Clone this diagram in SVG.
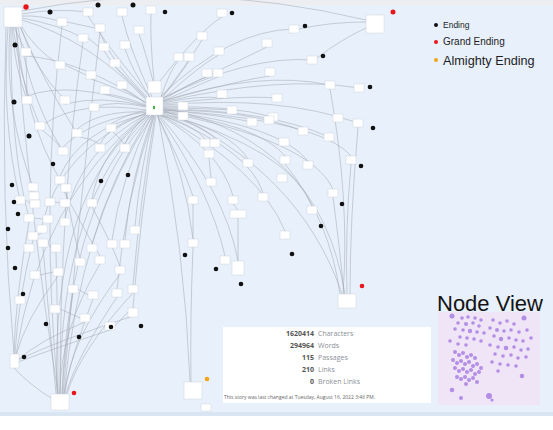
<svg xmlns="http://www.w3.org/2000/svg" width="553" height="430" viewBox="0 0 553 430">
<style>
.n{fill:#fff;stroke:#cdd4de;stroke-width:.5}
.e{fill:none;stroke:#a3a9b3;stroke-width:.7;opacity:.75}
.k{fill:#111}
.r{fill:#e8151b}
.o{fill:#f2a51c}
.p{fill:#a77fe2;opacity:.85}
.num{font-family:"Open Sans","Liberation Sans",sans-serif;font-size:7px;font-weight:bold;fill:#555;text-anchor:end}
.lab{font-family:"Open Sans","Liberation Sans",sans-serif;font-size:7px;fill:#8a8f98}
.lg{font-family:"Liberation Sans",Arial,sans-serif;fill:#1e1e1e}
</style>
<rect x="0" y="0" width="553" height="430" fill="#ffffff"/>
<rect x="0" y="5" width="553" height="409" fill="#e7f0fb"/>
<rect x="0" y="0" width="553" height="5" fill="#eceef1"/>
<rect x="0" y="412" width="553" height="4" fill="#d9e5f3"/>

<g id="connectors">
<path class="e" d="M22 14 Q55 8 88 12"/>
<path class="e" d="M22 16 Q40 15 62 22"/>
<path class="e" d="M14 27 Q20 40 26 52"/>
<path class="e" d="M12 27 Q14 65 27 100"/>
<path class="e" d="M13 27 Q20 80 40 126"/>
<path class="e" d="M10 27 Q4 110 33 187"/>
<path class="e" d="M8 27 Q1 120 20 200"/>
<path class="e" d="M6 27 Q0 200 14 354"/>
<path class="e" d="M16 27 Q30 220 58 394"/>
<path class="e" d="M20 24 Q35 50 60 65"/>
<path class="e" d="M20 26 Q35 70 65 100"/>
<path class="e" d="M18 27 Q30 100 63 151"/>
<path class="e" d="M20 26 Q45 85 77 133"/>
<path class="e" d="M22 20 Q90 40 146 100"/>
<path class="e" d="M22 11 Q190 -22 366 20"/>
<path class="e" d="M16 27 Q25 120 60 180"/>
<path class="e" d="M11 27 Q10 150 29 218"/>
<path class="e" d="M22 18 Q60 25 83 38"/>
<path class="e" d="M150 97 Q110 50 88 16"/>
<path class="e" d="M152 97 Q130 50 122 16"/>
<path class="e" d="M154 81 Q150 40 151 14"/>
<path class="e" d="M148 98 Q110 60 100 32"/>
<path class="e" d="M153 81 Q145 50 139 34"/>
<path class="e" d="M148 100 Q115 70 104 51"/>
<path class="e" d="M150 97 Q132 70 125 49"/>
<path class="e" d="M148 100 Q125 75 115 67"/>
<path class="e" d="M146 102 Q110 85 91 79"/>
<path class="e" d="M146 104 Q130 90 122 89"/>
<path class="e" d="M146 105 Q120 95 105 94"/>
<path class="e" d="M146 107 Q115 100 94 107"/>
<path class="e" d="M146 110 Q125 115 111 124"/>
<path class="e" d="M146 112 Q100 110 77 129"/>
<path class="e" d="M146 110 Q80 100 44 124"/>
<path class="e" d="M146 106 Q100 95 65 104"/>
<path class="e" d="M146 106 Q70 80 27 96"/>
<path class="e" d="M146 103 Q80 60 26 56"/>
<path class="e" d="M146 112 Q90 120 63 147"/>
<path class="e" d="M147 113 Q110 125 100 144"/>
<path class="e" d="M148 114 Q130 130 125 144"/>
<path class="e" d="M146 114 Q80 130 60 176"/>
<path class="e" d="M148 115 Q100 150 92 199"/>
<path class="e" d="M150 115 Q110 180 92 244"/>
<path class="e" d="M152 115 Q120 180 112 240"/>
<path class="e" d="M153 115 Q130 180 125 240"/>
<path class="e" d="M154 115 Q140 170 135 226"/>
<path class="e" d="M147 114 Q80 150 65 218"/>
<path class="e" d="M146 113 Q60 150 42 225"/>
<path class="e" d="M155 115 Q140 200 133 285"/>
<path class="e" d="M156 115 Q140 220 133 308"/>
<path class="e" d="M154 115 Q125 200 117 289"/>
<path class="e" d="M152 115 Q70 200 62 394"/>
<path class="e" d="M153 115 Q80 220 64 394"/>
<path class="e" d="M150 115 Q60 200 60 394"/>
<path class="e" d="M149 115 Q50 190 57 394"/>
<path class="e" d="M146 114 Q40 200 16 354"/>
<path class="e" d="M158 115 Q185 250 190 382"/>
<path class="e" d="M163 108 Q320 140 345 294"/>
<path class="e" d="M163 110 Q300 170 342 294"/>
<path class="e" d="M161 97 Q170 70 178 61"/>
<path class="e" d="M162 98 Q180 75 189 61"/>
<path class="e" d="M162 97 Q190 60 202 40"/>
<path class="e" d="M160 81 Q200 30 222 17"/>
<path class="e" d="M163 98 Q240 60 267 47"/>
<path class="e" d="M163 99 Q200 65 219 55"/>
<path class="e" d="M163 101 Q240 80 270 76"/>
<path class="e" d="M163 100 Q195 80 207 77"/>
<path class="e" d="M163 101 Q205 82 218 77"/>
<path class="e" d="M163 103 Q200 95 222 98"/>
<path class="e" d="M163 104 Q240 95 277 98"/>
<path class="e" d="M163 106 L178 106"/>
<path class="e" d="M163 108 Q200 108 232 110"/>
<path class="e" d="M163 110 Q220 115 252 122"/>
<path class="e" d="M163 107 Q230 105 273 117"/>
<path class="e" d="M161 96 Q230 30 294 29"/>
<path class="e" d="M163 98 Q250 55 312 60"/>
<path class="e" d="M163 101 Q260 70 330 85"/>
<path class="e" d="M163 102 Q280 75 359 88"/>
<path class="e" d="M163 110 Q250 110 303 131"/>
<path class="e" d="M163 109 Q270 110 329 137"/>
<path class="e" d="M163 105 Q280 95 358 123"/>
<path class="e" d="M160 115 Q195 125 205 139"/>
<path class="e" d="M161 115 Q205 125 215 139"/>
<path class="e" d="M162 114 Q230 130 248 159"/>
<path class="e" d="M163 112 Q260 125 285 156"/>
<path class="e" d="M163 111 Q280 125 308 161"/>
<path class="e" d="M163 110 Q320 120 351 156"/>
<path class="e" d="M157 115 Q180 160 193 196"/>
<path class="e" d="M159 115 Q220 150 233 196"/>
<path class="e" d="M161 115 Q250 150 263 193"/>
<path class="e" d="M163 112 Q310 140 333 189"/>
<path class="e" d="M163 113 Q290 150 312 206"/>
<path class="e" d="M161 115 Q260 170 285 231"/>
<path class="e" d="M157 115 Q185 170 193 239"/>
<path class="e" d="M158 115 Q210 190 225 256"/>
<path class="e" d="M159 115 Q225 190 238 261"/>
<path class="e" d="M299 29 Q330 22 366 22"/>
<path class="e" d="M317 58 Q340 40 366 28"/>
<path class="e" d="M209 158 L211 178"/>
<path class="e" d="M193 204 L193 239"/>
<path class="e" d="M193 247 Q190 320 191 382"/>
<path class="e" d="M233 204 L238 210"/>
<path class="e" d="M238 218 L238 261"/>
<path class="e" d="M358 127 Q350 220 350 294"/>
<path class="e" d="M351 164 Q345 230 347 294"/>
<path class="e" d="M333 197 Q340 250 344 294"/>
<path class="e" d="M330 89 Q350 200 343 294"/>
<path class="e" d="M285 164 Q330 220 340 294"/>
<path class="e" d="M29 222 Q15 300 14 354"/>
<path class="e" d="M33 240 Q18 300 15 354"/>
<path class="e" d="M58 276 Q25 320 16 356"/>
<path class="e" d="M85 322 Q40 340 18 360"/>
<path class="e" d="M110 330 Q50 350 18 362"/>
<path class="e" d="M133 316 Q60 340 18 360"/>
<path class="e" d="M73 293 Q65 350 62 394"/>
<path class="e" d="M93 299 Q70 360 64 394"/>
<path class="e" d="M117 297 Q75 360 66 394"/>
<path class="e" d="M133 293 Q80 350 67 394"/>
<path class="e" d="M56 252 Q58 330 58 394"/>
<path class="e" d="M43 247 Q50 330 56 394"/>
<path class="e" d="M62 26 Q40 200 58 394"/>
<path class="e" d="M100 32 Q80 200 63 394"/>
<path class="e" d="M83 42 Q60 200 60 394"/>
<path class="e" d="M38 187 L29 196"/>
<path class="e" d="M25 200 L30 203"/>
<path class="e" d="M55 202 L60 203"/>
<path class="e" d="M34 218 L43 219"/>
<path class="e" d="M42 233 L35 236"/>
<path class="e" d="M48 243 L51 248"/>
<path class="e" d="M40 275 L53 272"/>
<path class="e" d="M78 289 L88 295"/>
<path class="e" d="M115 326 L128 312"/>
<path class="e" d="M60 309 L80 318"/>
<path class="e" d="M65 65 L86 75"/>
<path class="e" d="M88 38 L99 47"/>
<path class="e" d="M67 22 L95 28"/>
<path class="e" d="M26 56 L27 96"/>
<path class="e" d="M42 130 Q55 140 60 147"/>
<path class="e" d="M80 137 Q95 140 99 144"/>
<path class="e" d="M113 132 Q122 140 124 144"/>
<path class="e" d="M60 184 Q90 240 100 256"/>
<path class="e" d="M66 191 Q75 240 80 258"/>
<path class="e" d="M92 207 Q110 240 120 266"/>
<path class="e" d="M100 264 Q60 330 60 394"/>
<path class="e" d="M120 274 Q70 340 65 394"/>
<path class="e" d="M14 368 Q30 385 51 398"/>
</g>

<g id="a1"><rect class="n" x="83" y="8" width="10" height="8"/></g>
<g id="a2"><rect class="n" x="117" y="8" width="10" height="8"/></g>
<g id="a3"><rect class="n" x="146" y="6" width="10" height="8"/></g>
<g id="a4"><rect class="n" x="57" y="18" width="10" height="8"/></g>
<g id="a5"><rect class="n" x="95" y="24" width="10" height="8"/></g>
<g id="a6"><rect class="n" x="134" y="26" width="10" height="8"/></g>
<g id="a7"><rect class="n" x="78" y="34" width="10" height="8"/></g>
<g id="a8"><rect class="n" x="99" y="43" width="10" height="8"/></g>
<g id="a9"><rect class="n" x="120" y="41" width="10" height="8"/></g>
<g id="a10"><rect class="n" x="21" y="48" width="10" height="8"/></g>
<g id="a11"><rect class="n" x="110" y="59" width="10" height="8"/></g>
<g id="a12"><rect class="n" x="55" y="61" width="10" height="8"/></g>
<g id="a13"><rect class="n" x="86" y="71" width="10" height="8"/></g>
<g id="a14"><rect class="n" x="117" y="81" width="10" height="8"/></g>
<g id="a15"><rect class="n" x="100" y="86" width="10" height="8"/></g>
<g id="a16"><rect class="n" x="60" y="96" width="10" height="8"/></g>
<g id="a17"><rect class="n" x="89" y="103" width="10" height="8"/></g>
<g id="a18"><rect class="n" x="22" y="96" width="10" height="8"/></g>
<g id="a19"><rect class="n" x="35" y="122" width="10" height="8"/></g>
<g id="a20"><rect class="n" x="72" y="129" width="10" height="8"/></g>
<g id="a21"><rect class="n" x="106" y="124" width="10" height="8"/></g>

<g id="b1"><rect class="n" x="174" y="53" width="9" height="8"/></g>
<g id="b2"><rect class="n" x="184" y="53" width="10" height="8"/></g>
<g id="b3"><rect class="n" x="197" y="32" width="10" height="8"/></g>
<g id="b4"><rect class="n" x="217" y="9" width="10" height="8"/></g>
<g id="b5"><rect class="n" x="262" y="39" width="10" height="8"/></g>
<g id="b6"><rect class="n" x="214" y="47" width="10" height="8"/></g>
<g id="b7"><rect class="n" x="265" y="68" width="10" height="8"/></g>
<g id="b8"><rect class="n" x="202" y="69" width="10" height="8"/></g>
<g id="b9"><rect class="n" x="213" y="69" width="10" height="8"/></g>
<g id="b10"><rect class="n" x="217" y="90" width="10" height="8"/></g>
<g id="b11"><rect class="n" x="272" y="94" width="10" height="8"/></g>
<g id="b12"><rect class="n" x="178" y="102" width="10" height="8"/></g>
<g id="b13"><rect class="n" x="178" y="112" width="10" height="8"/></g>
<g id="b14"><rect class="n" x="227" y="106" width="10" height="8"/></g>
<g id="b15"><rect class="n" x="247" y="118" width="10" height="8"/></g>
<g id="b16"><rect class="n" x="268" y="113" width="10" height="8"/></g>
<g id="b17"><rect class="n" x="289" y="25" width="10" height="8"/></g>
<g id="b18"><rect class="n" x="307" y="56" width="10" height="8"/></g>
<g id="b19"><rect class="n" x="325" y="81" width="10" height="8"/></g>
<g id="b20"><rect class="n" x="354" y="84" width="10" height="8"/></g>
<g id="b21"><rect class="n" x="298" y="127" width="10" height="8"/></g>
<g id="b22"><rect class="n" x="324" y="133" width="10" height="8"/></g>
<g id="b23"><rect class="n" x="353" y="119" width="10" height="8"/></g>
<g id="b24"><rect class="n" x="264" y="116" width="10" height="8"/></g>
<g id="b25"><rect class="n" x="279" y="138" width="10" height="8"/></g>
<g id="b26"><rect class="n" x="333" y="114" width="10" height="8"/></g>

<g id="c1"><rect class="n" x="200" y="139" width="10" height="8"/></g>
<g id="c2"><rect class="n" x="210" y="139" width="10" height="8"/></g>
<g id="c3"><rect class="n" x="204" y="150" width="10" height="8"/></g>
<g id="c4"><rect class="n" x="243" y="159" width="10" height="8"/></g>
<g id="c5"><rect class="n" x="280" y="156" width="10" height="8"/></g>
<g id="c6"><rect class="n" x="303" y="161" width="10" height="8"/></g>
<g id="c7"><rect class="n" x="277" y="174" width="10" height="8"/></g>
<g id="c8"><rect class="n" x="346" y="156" width="10" height="8"/></g>
<g id="c9"><rect class="n" x="206" y="178" width="10" height="8"/></g>
<g id="c10"><rect class="n" x="188" y="196" width="10" height="8"/></g>
<g id="c11"><rect class="n" x="228" y="196" width="10" height="8"/></g>
<g id="c12"><rect class="n" x="230" y="210" width="16" height="8"/></g>
<g id="c13"><rect class="n" x="258" y="193" width="10" height="8"/></g>
<g id="c14"><rect class="n" x="328" y="189" width="10" height="8"/></g>
<g id="c15"><rect class="n" x="307" y="206" width="10" height="8"/></g>
<g id="c16"><rect class="n" x="280" y="231" width="10" height="8"/></g>
<g id="c17"><rect class="n" x="188" y="239" width="10" height="8"/></g>
<g id="c18"><rect class="n" x="220" y="256" width="10" height="8"/></g>
<g id="c19"><rect class="n" x="232" y="261" width="12" height="14"/></g>

<g id="d1"><rect class="n" x="58" y="147" width="10" height="8"/></g>
<g id="d2"><rect class="n" x="95" y="144" width="10" height="8"/></g>
<g id="d3"><rect class="n" x="120" y="144" width="10" height="8"/></g>
<g id="d4"><rect class="n" x="55" y="176" width="10" height="8"/></g>
<g id="d5"><rect class="n" x="61" y="184" width="10" height="8"/></g>
<g id="d6"><rect class="n" x="28" y="183" width="10" height="8"/></g>
<g id="d7"><rect class="n" x="15" y="196" width="10" height="8"/></g>
<g id="d8"><rect class="n" x="29" y="192" width="10" height="8"/></g>
<g id="d9"><rect class="n" x="30" y="200" width="10" height="8"/></g>
<g id="d10"><rect class="n" x="45" y="198" width="10" height="8"/></g>
<g id="d11"><rect class="n" x="60" y="199" width="10" height="8"/></g>
<g id="d12"><rect class="n" x="87" y="199" width="10" height="8"/></g>
<g id="d13"><rect class="n" x="60" y="218" width="10" height="8"/></g>
<g id="d14"><rect class="n" x="24" y="214" width="10" height="8"/></g>
<g id="d15"><rect class="n" x="43" y="215" width="10" height="8"/></g>
<g id="d16"><rect class="n" x="37" y="225" width="10" height="8"/></g>
<g id="d17"><rect class="n" x="28" y="232" width="10" height="8"/></g>
<g id="d18"><rect class="n" x="24" y="244" width="10" height="8"/></g>
<g id="d19"><rect class="n" x="38" y="239" width="10" height="8"/></g>
<g id="d20"><rect class="n" x="51" y="244" width="10" height="8"/></g>
<g id="d21"><rect class="n" x="87" y="244" width="10" height="8"/></g>
<g id="d22"><rect class="n" x="107" y="240" width="10" height="8"/></g>
<g id="d23"><rect class="n" x="120" y="240" width="10" height="8"/></g>
<g id="d24"><rect class="n" x="130" y="226" width="10" height="8"/></g>
<g id="d25"><rect class="n" x="95" y="256" width="10" height="8"/></g>
<g id="d26"><rect class="n" x="75" y="258" width="10" height="8"/></g>

<g id="e1"><rect class="n" x="30" y="271" width="10" height="8"/></g>
<g id="e2"><rect class="n" x="53" y="268" width="10" height="8"/></g>
<g id="e3"><rect class="n" x="68" y="285" width="10" height="8"/></g>
<g id="e4"><rect class="n" x="88" y="291" width="10" height="8"/></g>
<g id="e5"><rect class="n" x="112" y="289" width="10" height="8"/></g>
<g id="e6"><rect class="n" x="128" y="285" width="10" height="8"/></g>
<g id="e7"><rect class="n" x="50" y="305" width="10" height="8"/></g>
<g id="e8"><rect class="n" x="80" y="314" width="10" height="8"/></g>
<g id="e9"><rect class="n" x="105" y="322" width="10" height="8"/></g>
<g id="e10"><rect class="n" x="128" y="308" width="10" height="9"/></g>
<g id="e11"><rect class="n" x="10" y="354" width="9" height="14"/></g>
<g id="e12"><rect class="n" x="15" y="296" width="10" height="8"/></g>
<g id="e13"><rect class="n" x="115" y="266" width="10" height="8"/></g>

<g id="start"><rect class="n" x="4" y="7" width="18" height="20"/></g>
<g id="hub-top"><rect class="n" x="148" y="81" width="13" height="12"/></g>
<g id="hub"><rect class="n" x="146" y="97" width="17" height="18"/><rect x="153" y="106" width="2" height="3" fill="#3bb54a"/></g>
<g id="credits"><rect class="n" x="366" y="15" width="18" height="18"/></g>
<g id="happy"><rect class="n" x="338" y="294" width="18" height="14"/></g>
<g id="grand-bottom"><rect class="n" x="51" y="394" width="18" height="16"/></g>
<g id="almighty"><rect class="n" x="184" y="382" width="18" height="17"/></g>
<g id="after"><rect class="n" x="201" y="404" width="10" height="7"/></g>

<g id="endings">
<circle class="r" cx="26" cy="7" r="2.7"/>
<circle class="k" cx="50" cy="12" r="2.5"/>
<circle class="k" cx="98" cy="5" r="2.5"/>
<circle class="k" cx="133" cy="5" r="2.5"/>
<circle class="k" cx="165" cy="12" r="2.3"/>
<circle class="k" cx="232" cy="13" r="2.3"/>
<circle class="k" cx="305" cy="26" r="2.3"/>
<circle class="k" cx="323" cy="56" r="2.3"/>
<circle class="k" cx="370" cy="87" r="2.3"/>
<circle class="k" cx="373" cy="128" r="2.3"/>
<circle class="k" cx="361" cy="166" r="2.3"/>
<circle class="k" cx="342" cy="204" r="2.3"/>
<circle class="k" cx="321" cy="226" r="2.3"/>
<circle class="k" cx="292" cy="254" r="2.3"/>
<circle class="k" cx="185" cy="255" r="2.3"/>
<circle class="k" cx="216" cy="269" r="2.3"/>
<circle class="k" cx="241" cy="284" r="2.3"/>
<circle class="k" cx="15" cy="45" r="2.5"/>
<circle class="k" cx="14" cy="102" r="2.5"/>
<circle class="k" cx="29" cy="136" r="2.5"/>
<circle class="k" cx="53" cy="164" r="2.3"/>
<circle class="k" cx="128" cy="175" r="2.3"/>
<circle class="k" cx="101" cy="181" r="2.3"/>
<circle class="k" cx="12" cy="185" r="2.3"/>
<circle class="k" cx="14" cy="202" r="2.3"/>
<circle class="k" cx="18" cy="214" r="2.3"/>
<circle class="k" cx="8" cy="229" r="2.3"/>
<circle class="k" cx="8" cy="248" r="2.3"/>
<circle class="k" cx="15" cy="268" r="2.3"/>
<circle class="k" cx="23" cy="294" r="2.3"/>
<circle class="k" cx="46" cy="324" r="2.3"/>
<circle class="k" cx="79" cy="337" r="2.3"/>
<circle class="k" cx="111" cy="327" r="2.3"/>
<circle class="k" cx="141" cy="326" r="2.3"/>
<circle class="k" cx="24" cy="357" r="2.3"/>
<circle class="r" cx="393" cy="12" r="2.5"/>
<circle class="r" cx="362" cy="286" r="2.3"/>
<circle class="r" cx="74" cy="393" r="2.3"/>
<circle class="o" cx="207" cy="379" r="2.3"/>
</g>

<g id="legend">
<circle class="k" cx="436" cy="25" r="2"/>
<text class="lg" x="443" y="28" font-size="8.5">Ending</text>
<circle class="r" cx="436" cy="42" r="2"/>
<text class="lg" x="443" y="45" font-size="10">Grand Ending</text>
<circle class="o" cx="436" cy="60" r="2"/>
<text class="lg" x="443" y="65" font-size="12.7">Almighty Ending</text>
</g>

<g id="stats">
<rect x="223" y="327" width="208" height="76" fill="#ffffff"/>
<text class="num" x="314" y="336">1620414</text><text class="lab" x="318" y="336">Characters</text>
<text class="num" x="314" y="348">294964</text><text class="lab" x="318" y="348">Words</text>
<text class="num" x="314" y="360">115</text><text class="lab" x="318" y="360">Passages</text>
<text class="num" x="314" y="372">210</text><text class="lab" x="318" y="372">Links</text>
<text class="num" x="314" y="384">0</text><text class="lab" x="318" y="384">Broken Links</text>
<text x="224" y="399" font-family="'Open Sans','Liberation Sans',sans-serif" font-size="5" fill="#666">This story was last changed at Tuesday, August 16, 2022 3:46 PM.</text>
</g>

<g id="node-view">
<text x="437" y="311" font-family="'Liberation Sans',Arial,sans-serif" font-size="22" fill="#141414">Node View</text>
<rect x="438" y="312" width="102" height="93" fill="#f0e5f6"/>
<circle class="p" cx="452" cy="316" r="2.5"/><circle class="p" cx="462" cy="318" r="1.8"/><circle class="p" cx="468" cy="317" r="1.8"/><circle class="p" cx="475" cy="318" r="1.8"/><circle class="p" cx="481" cy="320" r="1.8"/>
<circle class="p" cx="458" cy="323" r="1.8"/><circle class="p" cx="466" cy="324" r="2"/><circle class="p" cx="473" cy="323" r="1.8"/><circle class="p" cx="479" cy="326" r="1.8"/><circle class="p" cx="455" cy="329" r="1.8"/>
<circle class="p" cx="463" cy="330" r="1.8"/><circle class="p" cx="470" cy="331" r="2.2"/><circle class="p" cx="477" cy="332" r="1.8"/><circle class="p" cx="484" cy="333" r="1.8"/><circle class="p" cx="460" cy="337" r="1.8"/>
<circle class="p" cx="467" cy="338" r="1.8"/><circle class="p" cx="474" cy="339" r="1.8"/><circle class="p" cx="450" cy="341" r="1.8"/><circle class="p" cx="481" cy="341" r="1.8"/><circle class="p" cx="458" cy="344" r="1.8"/><circle class="p" cx="466" cy="345" r="1.8"/>
<circle class="p" cx="493" cy="320" r="1.8"/><circle class="p" cx="500" cy="323" r="1.8"/><circle class="p" cx="507" cy="321" r="1.8"/><circle class="p" cx="514" cy="324" r="1.8"/><circle class="p" cx="524" cy="318" r="2.5"/>
<circle class="p" cx="490" cy="328" r="1.8"/><circle class="p" cx="497" cy="330" r="2"/><circle class="p" cx="504" cy="331" r="1.8"/><circle class="p" cx="511" cy="330" r="1.8"/><circle class="p" cx="519" cy="332" r="1.8"/><circle class="p" cx="527" cy="330" r="1.8"/>
<circle class="p" cx="494" cy="336" r="1.8"/><circle class="p" cx="501" cy="339" r="2.2"/><circle class="p" cx="509" cy="338" r="1.8"/><circle class="p" cx="516" cy="340" r="1.8"/><circle class="p" cx="523" cy="341" r="1.8"/><circle class="p" cx="531" cy="338" r="1.8"/>
<circle class="p" cx="490" cy="345" r="1.8"/><circle class="p" cx="498" cy="347" r="1.8"/><circle class="p" cx="506" cy="348" r="2.3"/><circle class="p" cx="514" cy="347" r="1.8"/><circle class="p" cx="521" cy="350" r="1.8"/><circle class="p" cx="528" cy="349" r="1.8"/>
<circle class="p" cx="495" cy="354" r="1.8"/><circle class="p" cx="503" cy="356" r="1.8"/><circle class="p" cx="511" cy="355" r="1.8"/><circle class="p" cx="518" cy="358" r="1.8"/><circle class="p" cx="526" cy="357" r="1.8"/>
<circle class="p" cx="492" cy="362" r="1.8"/><circle class="p" cx="500" cy="364" r="1.8"/><circle class="p" cx="508" cy="365" r="1.8"/><circle class="p" cx="516" cy="366" r="1.8"/><circle class="p" cx="522" cy="376" r="2.3"/><circle class="p" cx="498" cy="371" r="1.8"/>
<circle class="p" cx="455" cy="352" r="2"/><circle class="p" cx="459" cy="355" r="2"/><circle class="p" cx="463" cy="353" r="2"/><circle class="p" cx="467" cy="357" r="2"/><circle class="p" cx="471" cy="355" r="2"/><circle class="p" cx="475" cy="358" r="2"/>
<circle class="p" cx="453" cy="360" r="2"/><circle class="p" cx="457" cy="363" r="2"/><circle class="p" cx="461" cy="361" r="2"/><circle class="p" cx="465" cy="364" r="2"/><circle class="p" cx="469" cy="362" r="2"/><circle class="p" cx="473" cy="366" r="2"/>
<circle class="p" cx="477" cy="364" r="2"/><circle class="p" cx="481" cy="368" r="2"/><circle class="p" cx="455" cy="368" r="2"/><circle class="p" cx="459" cy="371" r="2"/><circle class="p" cx="463" cy="369" r="2"/><circle class="p" cx="467" cy="372" r="2"/>
<circle class="p" cx="471" cy="370" r="2"/><circle class="p" cx="475" cy="374" r="2"/><circle class="p" cx="479" cy="372" r="2"/><circle class="p" cx="457" cy="377" r="2"/><circle class="p" cx="461" cy="379" r="2"/><circle class="p" cx="465" cy="377" r="2"/>
<circle class="p" cx="469" cy="380" r="2"/><circle class="p" cx="473" cy="378" r="2"/><circle class="p" cx="477" cy="382" r="2"/><circle class="p" cx="466" cy="384" r="2"/>
<circle class="p" cx="452" cy="390" r="2.3"/><circle class="p" cx="461" cy="398" r="2"/><circle class="p" cx="489" cy="396" r="3"/><circle class="p" cx="492" cy="400" r="1.6"/>
</g>
</svg>
